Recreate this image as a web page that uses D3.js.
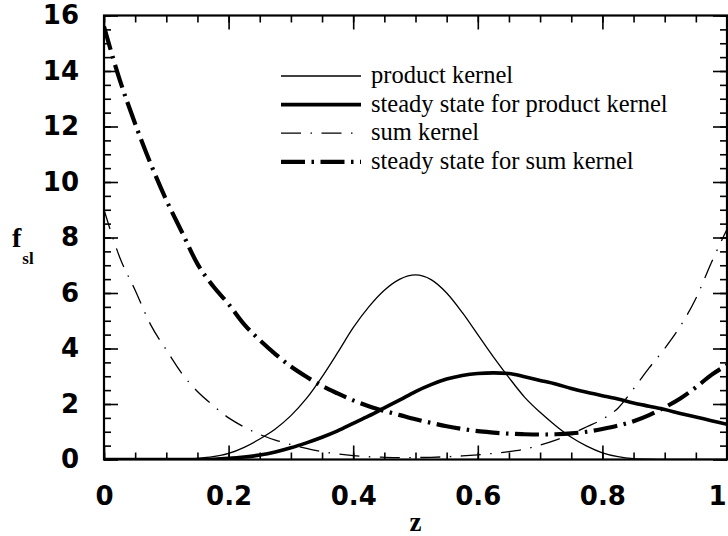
<!DOCTYPE html>
<html><head><meta charset="utf-8">
<script src="https://cdn.jsdelivr.net/npm/d3@7"></script>
<style>body{margin:0;background:#fff}svg{display:block}</style>
</head><body><svg id="c" width="728" height="536"></svg>
<script>
// z positions (step 0.025)
const zValues = [0,0.025,0.05,0.075,0.1,0.125,0.15,0.175,0.2,0.225,0.25,0.275,0.3,0.325,0.35,0.375,0.4,0.425,0.45,0.475,0.5,0.525,0.55,0.575,0.6,0.625,0.65,0.675,0.7,0.725,0.75,0.775,0.8,0.825,0.85,0.875,0.9,0.925,0.95,0.975,1];
const productKernel = [0,0,0,0,0,0.01,0.04,0.1,0.22,0.44,0.74,1.1,1.58,2.2,2.98,3.85,4.75,5.5,6.1,6.5,6.65,6.48,6.0,5.3,4.5,3.7,2.95,2.25,1.7,1.22,0.8,0.48,0.24,0.1,0.03,0.01,0,0,0,0,0];
const steadyProduct = [0,0,0,0,0,0,0,0.01,0.04,0.09,0.16,0.27,0.42,0.6,0.8,1.03,1.3,1.57,1.86,2.15,2.45,2.7,2.9,3.03,3.1,3.12,3.1,2.98,2.85,2.72,2.56,2.42,2.3,2.18,2.04,1.92,1.8,1.66,1.53,1.4,1.27];
const sumKernel = [9.0,7.3,6.1,4.85,3.95,3.1,2.45,1.95,1.5,1.17,0.9,0.7,0.54,0.4,0.28,0.2,0.14,0.1,0.08,0.07,0.07,0.08,0.1,0.13,0.17,0.22,0.28,0.37,0.52,0.7,0.92,1.18,1.45,1.85,2.55,3.3,4.0,4.8,5.8,7.1,8.3];
const steadySum = [15.6,13.7,12.1,10.65,9.35,8.2,7.05,6.25,5.6,4.87,4.3,3.8,3.35,2.98,2.65,2.38,2.13,1.92,1.75,1.6,1.45,1.32,1.2,1.1,1.02,0.97,0.93,0.91,0.9,0.91,0.94,1.0,1.1,1.22,1.38,1.6,1.88,2.2,2.6,3.05,3.4];
const xTickLabels = ["0","0.2","0.4","0.6","0.8","1"];
const yTickLabels = ["0","2","4","6","8","10","12","14","16"];
const seriesNames = ["product kernel","steady state for product kernel","sum kernel","steady state for sum kernel"];

const svg = d3.select("#c");
const L = 104, R = 727, T = 15.5, B = 459.5;
const x = d3.scaleLinear().domain([0,1]).range([L,R]);
const y = d3.scaleLinear().domain([0,16]).range([B,T]);

const styles = [
  {w:1.3, dash:null},
  {w:3.6, dash:null},
  {w:1.3, dash:"20,9.5,1.5,9.5"},
  {w:4.2, dash:"24,6.5,2.5,6.5"}
];
const seriesData = [productKernel, steadyProduct, sumKernel, steadySum];

svg.append("clipPath").attr("id","clip").append("rect")
  .attr("x",L).attr("y",T).attr("width",R-L).attr("height",B-T);

const line = d3.line().x(d=>x(d[0])).y(d=>y(d[1])).curve(d3.curveMonotoneX);
const g = svg.append("g").attr("clip-path","url(#clip)");
seriesData.forEach((vals,i)=>{
  g.append("path")
    .attr("d", line(zValues.map((z,j)=>[z, vals[j]])))
    .attr("fill","none").attr("stroke","#000")
    .attr("stroke-width", styles[i].w)
    .attr("stroke-dasharray", styles[i].dash)
    .attr("stroke-linecap","butt").attr("stroke-linejoin","round");
});

// axes
const tickFont = "'DejaVu Sans', sans-serif";
function styleAxis(sel){
  sel.select(".domain").remove();
  sel.selectAll(".tick line").attr("stroke","#000").attr("stroke-width",1.6);
}
const xMinor = x.ticks(20), xMajor = x.ticks(5);
const yMinor = y.ticks(32), yMajor = y.ticks(8);

svg.append("g").attr("transform",`translate(0,${B})`)
  .call(d3.axisBottom(x).tickValues(xMinor).tickSize(-7).tickFormat("")).call(styleAxis);
const xAx = svg.append("g").attr("transform",`translate(0,${B})`)
  .call(d3.axisBottom(x).tickValues(xMajor).tickSize(-14).tickPadding(27).tickFormat((d,i)=>xTickLabels[i])).call(styleAxis);
svg.append("g").attr("transform",`translate(0,${T})`)
  .call(d3.axisTop(x).tickValues(xMinor).tickSize(-7).tickFormat("")).call(styleAxis);
svg.append("g").attr("transform",`translate(0,${T})`)
  .call(d3.axisTop(x).tickValues(xMajor).tickSize(-14).tickFormat("")).call(styleAxis);

svg.append("g").attr("transform",`translate(${L},0)`)
  .call(d3.axisLeft(y).tickValues(yMinor).tickSize(-7).tickFormat("")).call(styleAxis);
const yAx = svg.append("g").attr("transform",`translate(${L},0)`)
  .call(d3.axisLeft(y).tickValues(yMajor).tickSize(-14).tickPadding(25).tickFormat((d,i)=>yTickLabels[i])).call(styleAxis);
svg.append("g").attr("transform",`translate(${R},0)`)
  .call(d3.axisRight(y).tickValues(yMinor).tickSize(-7).tickFormat("")).call(styleAxis);
svg.append("g").attr("transform",`translate(${R},0)`)
  .call(d3.axisRight(y).tickValues(yMajor).tickSize(-14).tickFormat("")).call(styleAxis);

[xAx,yAx].forEach(a=>a.selectAll(".tick text")
  .attr("font-family",tickFont).attr("font-weight","bold").attr("font-size",26)
  .attr("fill","#000"));
xAx.selectAll(".tick text").filter((d,i,n)=>i===n.length-1).attr("dx","-10px");

// frame
svg.append("rect").attr("x",L).attr("y",T).attr("width",R-L).attr("height",B-T)
  .attr("fill","none").attr("stroke","#000").attr("stroke-width",2.2);

// axis titles
const serif = "'Liberation Serif','Times New Roman',serif";
svg.append("text").attr("x",x(0.5)).attr("y",531).attr("text-anchor","middle")
  .attr("font-family",serif).attr("font-weight","bold").attr("font-size",27).text("z");
const yt = svg.append("text").attr("x",12).attr("y",247)
  .attr("font-family",serif).attr("font-weight","bold").attr("font-size",28);
yt.append("tspan").text("f");
yt.append("tspan").attr("dy",17).attr("dx",1).attr("font-size",17).text("sl");

// legend
const lg = svg.append("g");
const lx0 = 281, lx1 = 361, ly0 = 76, lstep = 28.6;
seriesNames.forEach((name,i)=>{
  const yy = ly0 + i*lstep;
  lg.append("line").attr("x1",lx0).attr("x2",lx1).attr("y1",yy).attr("y2",yy)
    .attr("stroke","#000").attr("stroke-width",styles[i].w)
    .attr("stroke-dasharray",styles[i].dash);
  lg.append("text").attr("x",371).attr("y",yy+7)
    .attr("font-family",serif).attr("font-size",24.5).attr("fill","#000").text(name);
});
</script></body></html>
